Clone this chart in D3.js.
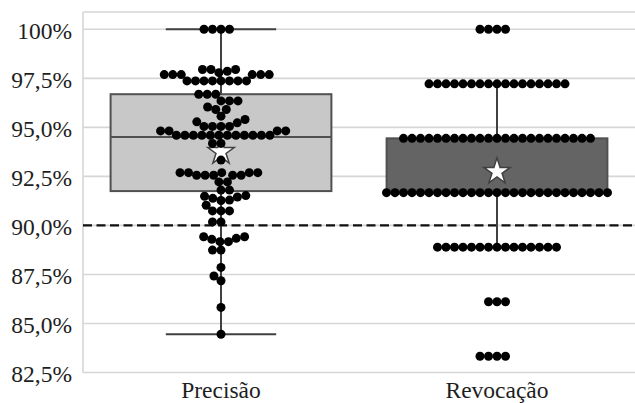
<!DOCTYPE html>
<html>
<head>
<meta charset="utf-8">
<script src="https://cdn.jsdelivr.net/npm/d3@7"></script>
<style>
  html, body { margin: 0; padding: 0; background: #fff; }
  svg { display: block; }
  text { font-family: "Liberation Serif", "Times New Roman", serif; fill: #1e1e1e; }
</style>
</head>
<body>
<svg id="chart" width="635" height="403"></svg>
<script>
// Categories and per-category summary statistics (percent)
const categories = ["Precisão", "Revocação"];
const q1Values = [91.75, 91.67];
const medianValues = [94.51, 91.67];
const q3Values = [96.69, 94.44];
const whiskerLow = [84.45, 88.89];
const whiskerHigh = [100, 97.22];
const meanValues = [93.75, 92.74];
const boxFills = ["#c8c8c8", "#646464"];

// Individual observations (percent)
const precisao = [
  100, 100, 100, 100,
  97.95, 97.95, 97.95, 97.86, 97.79,
  97.69, 97.69, 97.69, 97.69, 97.69, 97.69,
  97.37, 97.37, 97.37, 97.37, 97.37, 97.37, 97.37, 97.37,
  96.69, 96.69, 96.69,
  96.35, 96.35, 96.35,
  96.04, 95.91, 95.91,
  95.57, 95.40, 95.28, 95.23,
  95.05, 95.05, 95.05, 95.05,
  94.82, 94.82, 94.82, 94.82,
  94.60, 94.60, 94.60, 94.60, 94.60, 94.60, 94.60, 94.60, 94.60, 94.60, 94.60, 94.60,
  94.18, 94.18,
  93.33,
  92.69, 92.69, 92.69, 92.69, 92.69,
  92.56, 92.56, 92.56, 92.56, 92.56,
  92.22, 92.22,
  91.80, 91.80,
  91.52, 91.49, 91.45, 91.38, 91.29, 91.27,
  91.03,
  90.74, 90.74, 90.74,
  90.18, 90.18,
  89.42, 89.42, 89.34, 89.29, 89.17, 89.17,
  88.74, 88.74,
  87.86, 87.42, 87.18, 85.82, 84.45
];

const revocacao = [
  100, 100, 100, 100,
  ...Array(17).fill(97.22),
  ...Array(23).fill(94.44),
  ...Array(27).fill(91.67),
  ...Array(15).fill(88.89),
  86.11, 86.11, 86.11,
  83.33, 83.33, 83.33, 83.33
];
const series = [precisao, revocacao];

// Axis ticks and reference threshold
const tickValues = [82.5, 85, 87.5, 90, 92.5, 95, 97.5, 100];
const tickLabels = ["82,5%", "85,0%", "87,5%", "90,0%", "92,5%", "95,0%", "97,5%", "100%"];
const thresholdValue = [90];

const svg = d3.select("#chart");
const plot = { left: 83, right: 635, top: 12, bottom: 372.5 };

const y = d3.scaleLinear().domain([82.5, 100]).range([plot.bottom, 29.3]);
const x = d3.scaleBand().domain(categories).range([plot.left, plot.right]).padding(0);
const bw = x.bandwidth();
const boxW = bw * 0.8;
const capW = bw * 0.4;
const dotR = 4.5;
const spacing = 8.5;

// Horizontal gridlines
svg.append("g")
  .selectAll("line")
  .data(tickValues)
  .join("line")
  .attr("x1", plot.left).attr("x2", plot.right)
  .attr("y1", d => y(d)).attr("y2", d => y(d))
  .attr("stroke", "#d6d6d6").attr("stroke-width", 1.6);

// Plot frame: top and left edges
svg.append("line")
  .attr("x1", plot.left).attr("x2", plot.right)
  .attr("y1", plot.top).attr("y2", plot.top)
  .attr("stroke", "#d6d6d6").attr("stroke-width", 1.6);
svg.append("line")
  .attr("x1", plot.left).attr("x2", plot.left)
  .attr("y1", plot.top).attr("y2", plot.bottom)
  .attr("stroke", "#d6d6d6").attr("stroke-width", 1.6);

// Y axis labels
const yAxis = d3.axisLeft(y).tickValues(tickValues)
  .tickFormat(d => tickLabels[tickValues.indexOf(d)])
  .tickSize(0).tickPadding(11);
const yg = svg.append("g").attr("transform", `translate(${plot.left},0)`).call(yAxis);
yg.select(".domain").remove();
yg.selectAll("text")
  .attr("dy", "0.38em")
  .style("font-size", "23.5px")
  .style("font-family", "'Liberation Serif', serif")
  .attr("fill", "#1e1e1e");

// X axis labels
const xAxis = d3.axisBottom(x).tickSize(0).tickPadding(9);
const xg = svg.append("g").attr("transform", `translate(0,${plot.bottom})`).call(xAxis);
xg.select(".domain").remove();
xg.selectAll("text")
  .style("font-size", "23.5px")
  .style("font-family", "'Liberation Serif', serif")
  .attr("fill", "#1e1e1e");

// Dashed 90% reference line
svg.append("g")
  .selectAll("line")
  .data(thresholdValue)
  .join("line")
  .attr("x1", plot.left).attr("x2", plot.right)
  .attr("y1", d => y(d)).attr("y2", d => y(d))
  .attr("stroke", "#111").attr("stroke-width", 2.2)
  .attr("stroke-dasharray", "9,4.5");

// Boxes, whiskers, medians
const groups = svg.append("g")
  .selectAll("g")
  .data(categories)
  .join("g")
  .attr("transform", d => `translate(${x(d) + bw / 2},0)`);

groups.append("line")
  .attr("x1", 0).attr("x2", 0)
  .attr("y1", (d, i) => y(whiskerHigh[i])).attr("y2", (d, i) => y(q3Values[i]))
  .attr("stroke", "#404040").attr("stroke-width", 2);
groups.append("line")
  .attr("x1", 0).attr("x2", 0)
  .attr("y1", (d, i) => y(q1Values[i])).attr("y2", (d, i) => y(whiskerLow[i]))
  .attr("stroke", "#404040").attr("stroke-width", 2);
groups.append("line")
  .attr("x1", -capW / 2).attr("x2", capW / 2)
  .attr("y1", (d, i) => y(whiskerHigh[i])).attr("y2", (d, i) => y(whiskerHigh[i]))
  .attr("stroke", "#404040").attr("stroke-width", 2);
groups.append("line")
  .attr("x1", -capW / 2).attr("x2", capW / 2)
  .attr("y1", (d, i) => y(whiskerLow[i])).attr("y2", (d, i) => y(whiskerLow[i]))
  .attr("stroke", "#404040").attr("stroke-width", 2);

groups.append("rect")
  .attr("x", -boxW / 2).attr("width", boxW)
  .attr("y", (d, i) => y(q3Values[i]))
  .attr("height", (d, i) => y(q1Values[i]) - y(q3Values[i]))
  .attr("fill", (d, i) => boxFills[i])
  .attr("stroke", "#505050").attr("stroke-width", 2);
groups.append("line")
  .attr("x1", -boxW / 2).attr("x2", boxW / 2)
  .attr("y1", (d, i) => y(medianValues[i])).attr("y2", (d, i) => y(medianValues[i]))
  .attr("stroke", "#505050").attr("stroke-width", 2);

// Mean markers
groups.append("path")
  .attr("d", d3.symbol(d3.symbolStar, 215)())
  .attr("transform", (d, i) => `translate(0,${y(meanValues[i])})`)
  .attr("fill", "#fff").attr("stroke", "#404040").attr("stroke-width", 1.5);

// Beeswarm placement: ascending order, nearest free horizontal offset
function swarm(values) {
  const pts = values.map(v => ({ v, py: y(v) })).sort((a, b) => a.v - b.v);
  const placed = [];
  const s2 = spacing * spacing;
  for (const p of pts) {
    const cands = [0];
    for (const q of placed) {
      const dy = Math.abs(q.py - p.py);
      if (dy < spacing) {
        const dx = Math.sqrt(s2 - dy * dy);
        cands.push(q.dx - dx, q.dx + dx);
      }
    }
    cands.sort((a, b) => (Math.round(Math.abs(a) * 1000) - Math.round(Math.abs(b) * 1000)) || (a - b));
    let best = 0;
    for (const c of cands) {
      if (placed.every(q => (q.dx - c) ** 2 + (q.py - p.py) ** 2 >= s2 - 1e-3)) { best = c; break; }
    }
    placed.push({ ...p, dx: best });
  }
  return placed;
}

groups.each(function (d, i) {
  d3.select(this).append("g")
    .selectAll("circle")
    .data(swarm(series[i]))
    .join("circle")
    .attr("cx", p => p.dx)
    .attr("cy", p => p.py)
    .attr("r", dotR)
    .attr("fill", "#000");
});
</script>
</body>
</html>
